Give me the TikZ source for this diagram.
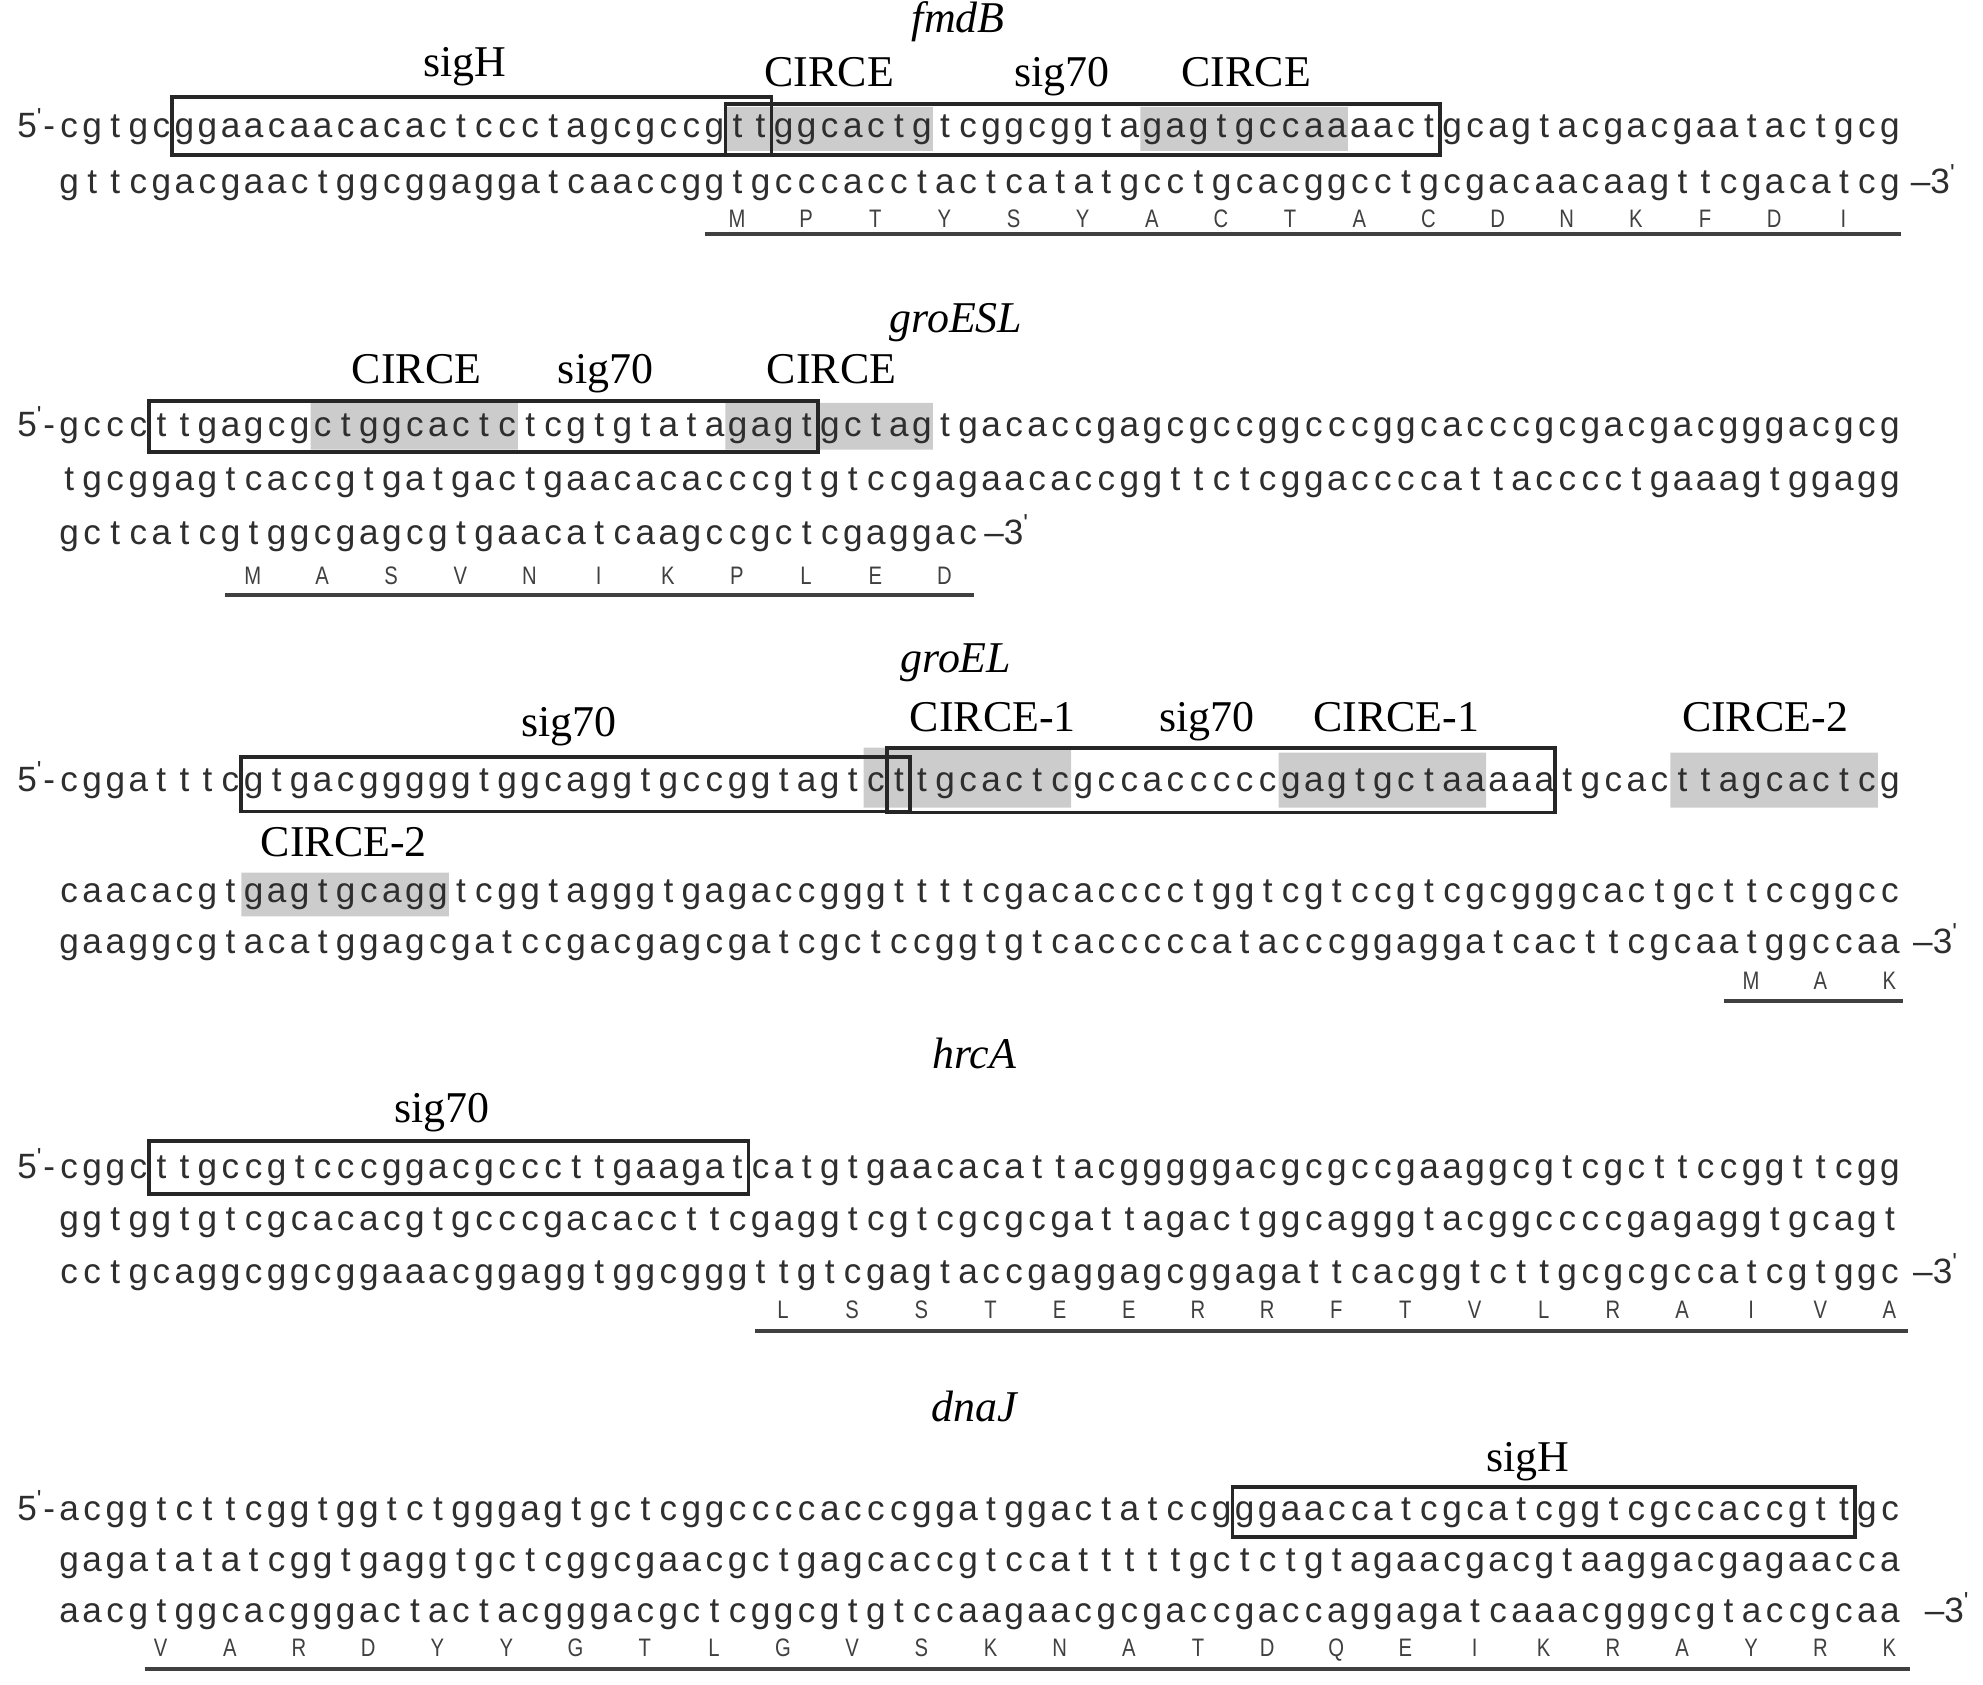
\documentclass[tikz,border=0pt]{standalone}
\usepackage{fontspec}
\setmainfont{Liberation Serif}
\newfontfamily\seqfont{Liberation Sans}
\newfontfamily\aafont[FakeStretch=0.8]{Liberation Sans}
% one column of the sequence grid
\newlength\seqpitch
\setlength\seqpitch{0.2305cm}
\newcommand\seqloop[1]{\ifx\relax#1\else\makebox[\seqpitch][c]{#1}\expandafter\seqloop\fi}
\newcommand\seq[1]{\seqloop#1\relax}
\newcommand\fivep{5\textsuperscript{\textquotesingle}-}
\newcommand\threep{\textendash3\textsuperscript{\textquotesingle}}
% amino acids, one every third column
\newcommand\aarow[4]{\foreach \res [count=\i from 0] in {#4} \node[aa] (#1\i) at ({#2+3*\i},#3) {\res};}
\begin{document}
\begin{tikzpicture}[x=0.2305cm,y=-0.01cm,
seq/.style={anchor=base west,inner sep=0pt,text=black!82,font=\seqfont\fontsize{10}{11}\selectfont},
tag/.style={inner sep=0pt,text=black!82,font=\seqfont\fontsize{10}{11}\selectfont},
aa/.style={anchor=base,inner sep=0pt,text=black!75,font=\aafont\fontsize{7.2}{8}\selectfont},
lbl/.style={anchor=base,inner sep=0pt,font=\fontsize{12.5}{14}\selectfont},
gene/.style={anchor=base,inner sep=0pt,font=\fontsize{12.5}{14}\selectfont\itshape},
site/.style={draw=black!85,line width=1.1pt},
circe/.style={fill=black!20},
orf/.style={draw=black!75,line width=1.1pt},
]
\useasboundingbox (-2.972,0) rectangle (83.058,1685);

% fmdB
\path[circe]
    (28.5,107) rectangle (37.5,151)
    (46.5,107) rectangle (55.5,151);
\path[site]
    (4.5,97) rectangle (30.5,155)
    (28.5,104) rectangle (59.5,155);
\node[gene] (fmdB) at (38.6,33) {fmdB};
\node[lbl] (fmdBsigH) at (17.2,77) {sigH};
\node[lbl] (fmdBc1) at (33.0,87) {CIRCE};
\node[lbl] (fmdBs70) at (43.1,87) {sig70};
\node[lbl] (fmdBc2) at (51.1,87) {CIRCE};
\node[tag,anchor=base east] (fmdB5) at (-0.55,138) {\fivep};
\node[seq] (fmdB1) at (-0.5,138) {\seq{cgtgcggaacaacacactccctagcgccgttggcactgtcggcggtagagtgccaaaactgcagtacgacgaatactgcg}};
\node[seq] (fmdB2) at (-0.5,194) {\seq{gttcgacgaactggcggaggatcaaccggtgcccacctactcatatgcctgcacggcctgcgacaacaagttcgacatcg}};
\node[tag,anchor=base west] (fmdB3) at (79.9,194) {\threep};
\aarow{fmdBaa}{29}{228}{M,P,T,Y,S,Y,A,C,T,A,C,D,N,K,F,D,I}
\path[orf] (27.6,234) -- (79.5,234);

% groESL
\path[circe]
    (10.5,403) rectangle (19.5,450)
    (28.5,403) rectangle (37.5,450);
\path[site] (3.5,401) rectangle (32.5,452);
\node[gene] (groESL) at (38.5,333) {groESL};
\node[lbl] (groESLc1) at (15.1,384) {CIRCE};
\node[lbl] (groESLs70) at (23.3,384) {sig70};
\node[lbl] (groESLc2) at (33.1,384) {CIRCE};
\node[tag,anchor=base east] (groESL5) at (-0.55,437) {\fivep};
\node[seq] (groESL1) at (-0.5,437) {\seq{gcccttgagcgctggcactctcgtgtatagagtgctagtgacaccgagcgccggcccggcacccgcgacgacgggacgcg}};
\node[seq] (groESL2) at (-0.5,491) {\seq{tgcggagtcaccgtgatgactgaacacacccgtgtccgagaacaccggttctcggaccccattacccctgaaagtggagg}};
\node[seq] (groESL3) at (-0.5,545) {\seq{gctcatcgtggcgagcgtgaacatcaagccgctcgaggac}};
\node[tag,anchor=base west] (groESL4) at (39.7,545) {\threep};
\aarow{groESLaa}{8}{585}{M,A,S,V,N,I,K,P,L,E,D}
\path[orf] (6.8,595) -- (39.3,595);

% groEL
\path[circe]
    (34.5,748) rectangle (43.5,808)
    (52.5,753) rectangle (61.5,808)
    (69.5,753) rectangle (78.5,808)
    (7.5,873) rectangle (16.5,917);
\path[site]
    (7.5,757) rectangle (36.5,812)
    (35.5,748) rectangle (64.5,813);
\node[gene] (groEL) at (38.5,673) {groEL};
\node[lbl] (groELs70a) at (21.7,737) {sig70};
\node[lbl] (groELc1a) at (40.1,732) {CIRCE-1};
\node[lbl] (groELs70b) at (49.4,732) {sig70};
\node[lbl] (groELc1b) at (57.6,732) {CIRCE-1};
\node[lbl] (groELc2a) at (73.6,732) {CIRCE-2};
\node[lbl] (groELc2b) at (11.95,857) {CIRCE-2};
\node[tag,anchor=base east] (groEL5) at (-0.55,792) {\fivep};
\node[seq] (groEL1) at (-0.5,792) {\seq{cggatttcgtgacgggggtggcaggtgccggtagtcttgcactcgccacccccgagtgctaaaaatgcacttagcactcg}};
\node[seq] (groEL2) at (-0.5,903) {\seq{caacacgtgagtgcaggtcggtagggtgagaccgggttttcgacacccctggtcgtccgtcgcgggcactgcttccggcc}};
\node[seq] (groEL3) at (-0.5,954) {\seq{gaaggcgtacatggagcgatccgacgagcgatcgctccggtgtcacccccatacccggaggatcacttcgcaatggccaa}};
\node[tag,anchor=base west] (groEL4) at (80.0,954) {\threep};
\aarow{groELaa}{73}{990}{M,A,K}
\path[orf] (71.8,1002) -- (79.6,1002);

% hrcA
\path[site] (3.5,1142) rectangle (29.5,1195);
\node[gene] (hrcA) at (39.3,1069) {hrcA};
\node[lbl] (hrcAs70) at (16.2,1123) {sig70};
\node[tag,anchor=base east] (hrcA5) at (-0.55,1179) {\fivep};
\node[seq] (hrcA1) at (-0.5,1179) {\seq{cggcttgccgtcccggacgcccttgaagatcatgtgaacacattacgggggacgcgccgaaggcgtcgcttccggttcgg}};
\node[seq] (hrcA2) at (-0.5,1231) {\seq{ggtggtgtcgcacacgtgcccgacaccttcgaggtcgtcgcgcgattagactggcagggtacggccccgagaggtgcagt}};
\node[seq] (hrcA3) at (-0.5,1284) {\seq{cctgcaggcggcggaaacggaggtggcgggttgtcgagtaccgaggagcggagattcacggtcttgcgcgccatcgtggc}};
\node[tag,anchor=base west] (hrcA4) at (80.0,1284) {\threep};
\aarow{hrcAaa}{31}{1319}{L,S,S,T,E,E,R,R,F,T,V,L,R,A,I,V,A}
\path[orf] (29.8,1332) -- (79.8,1332);

% dnaJ
\path[site] (50.5,1488) rectangle (77.5,1538);
\node[gene] (dnaJ) at (39.3,1422) {dnaJ};
\node[lbl] (dnaJsigH) at (63.3,1472) {sigH};
\node[tag,anchor=base east] (dnaJ5) at (-0.55,1521) {\fivep};
\node[seq] (dnaJ1) at (-0.5,1521) {\seq{acggtcttcggtggtctgggagtgctcggccccacccggatggactatccgggaaccatcgcatcggtcgccaccgttgc}};
\node[seq] (dnaJ2) at (-0.5,1572) {\seq{gagatatatcggtgaggtgctcggcgaacgctgagcaccgtccatttttgctctgtagaacgacgtaaggacgagaacca}};
\node[seq] (dnaJ3) at (-0.5,1623) {\seq{aacgtggcacgggactactacgggacgctcggcgtgtccaagaacgcgaccgaccaggagatcaaacgggcgtaccgcaa}};
\node[tag,anchor=base west] (dnaJ4) at (80.5,1623) {\threep};
\aarow{dnaJaa}{4}{1657}{V,A,R,D,Y,Y,G,T,L,G,V,S,K,N,A,T,D,Q,E,I,K,R,A,Y,R,K}
\path[orf] (3.3,1670) -- (79.9,1670);
\end{tikzpicture}
\end{document}
